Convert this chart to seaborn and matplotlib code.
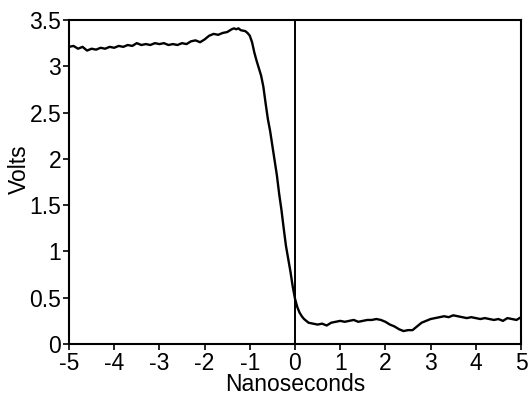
import matplotlib
matplotlib.use("Agg")
import matplotlib.pyplot as plt
import seaborn as sns
import pandas as pd

# waveform (ns, volts)
time_ns = [
    -5.0, -4.9, -4.8, -4.7, -4.6, -4.5, -4.4, -4.3, -4.2, -4.1,
    -4.0, -3.9, -3.8, -3.7, -3.6, -3.5, -3.4, -3.3, -3.2, -3.1,
    -3.0, -2.9, -2.8, -2.7, -2.6, -2.5, -2.4, -2.3, -2.2, -2.1,
    -2.0, -1.9, -1.8, -1.7, -1.6, -1.5, -1.4, -1.35, -1.3, -1.25,
    -1.2, -1.1, -1.05, -1.0, -0.95, -0.9, -0.85, -0.8, -0.75, -0.7,
    -0.65, -0.6, -0.55, -0.5, -0.45, -0.4, -0.35, -0.3, -0.25, -0.2,
    -0.15, -0.1, -0.05, 0.0, 0.05, 0.1, 0.15, 0.2, 0.3, 0.4,
    0.5, 0.6, 0.7, 0.8, 0.9, 1.0, 1.1, 1.2, 1.3, 1.4,
    1.5, 1.6, 1.7, 1.8, 1.9, 2.0, 2.1, 2.2, 2.3, 2.4,
    2.5, 2.6, 2.7, 2.8, 2.9, 3.0, 3.1, 3.2, 3.3, 3.4,
    3.5, 3.6, 3.7, 3.8, 3.9, 4.0, 4.1, 4.2, 4.3, 4.4,
    4.5, 4.6, 4.7, 4.8, 4.9, 5.0,
]
volts = [
    3.21, 3.22, 3.19, 3.21, 3.17, 3.19, 3.18, 3.20, 3.19, 3.21,
    3.20, 3.22, 3.21, 3.23, 3.22, 3.25, 3.23, 3.24, 3.23, 3.25,
    3.24, 3.25, 3.23, 3.24, 3.23, 3.25, 3.24, 3.27, 3.28, 3.26,
    3.29, 3.33, 3.35, 3.34, 3.36, 3.37, 3.40, 3.41, 3.40, 3.41,
    3.39, 3.38, 3.36, 3.33, 3.26, 3.15, 3.06, 2.98, 2.90, 2.78,
    2.60, 2.43, 2.30, 2.14, 1.98, 1.82, 1.62, 1.45, 1.25, 1.06,
    0.92, 0.78, 0.62, 0.49, 0.40, 0.34, 0.30, 0.27, 0.23, 0.22,
    0.21, 0.22, 0.20, 0.23, 0.24, 0.25, 0.24, 0.25, 0.26, 0.24,
    0.25, 0.26, 0.26, 0.27, 0.26, 0.24, 0.21, 0.19, 0.16, 0.14,
    0.15, 0.15, 0.19, 0.23, 0.25, 0.27, 0.28, 0.29, 0.30, 0.29,
    0.31, 0.30, 0.29, 0.28, 0.29, 0.28, 0.27, 0.28, 0.27, 0.26,
    0.27, 0.25, 0.28, 0.27, 0.26, 0.29,
]
x_ticks = [-5, -4, -3, -2, -1, 0, 1, 2, 3, 4, 5]
y_ticks = [0, 0.5, 1, 1.5, 2, 2.5, 3, 3.5]
y_tick_labels = ["0", "0.5", "1", "1.5", "2", "2.5", "3", "3.5"]

sns.set_style("ticks")
plt.rcParams['font.family'] = ['Liberation Sans', 'DejaVu Sans']
plt.rcParams['text.color'] = 'black'
plt.rcParams['axes.labelcolor'] = 'black'

df = pd.DataFrame({"Nanoseconds": time_ns, "Volts": volts})

fig = plt.figure(figsize=(5.29, 4.01), dpi=100)
ax = fig.add_axes([0.1304, 0.1421, 0.8545, 0.808])

sns.lineplot(data=df, x="Nanoseconds", y="Volts", color="black",
             linewidth=1.7, ax=ax)
ax.axvline(0, color="black", linewidth=1.4)

ax.set_xlim(-5, 5)
ax.set_ylim(0, 3.5)
ax.set_xticks(x_ticks)
ax.set_xticklabels([str(t) for t in x_ticks])
ax.set_yticks(y_ticks)
ax.set_yticklabels(y_tick_labels)

for side in ax.spines.values():
    side.set_linewidth(1.5)
    side.set_color("black")
ax.tick_params(direction="out", length=4, width=1.2, pad=1.5,
               labelsize=16.5, colors="black")

ax.set_xlabel("Nanoseconds", fontsize=16.5, color="black")
ax.set_ylabel("Volts", fontsize=16.5, color="black")
ax.xaxis.set_label_coords(0.5, -0.09)
ax.yaxis.set_label_coords(-0.084, 0.54)

fig.savefig("out.png", dpi=100)
